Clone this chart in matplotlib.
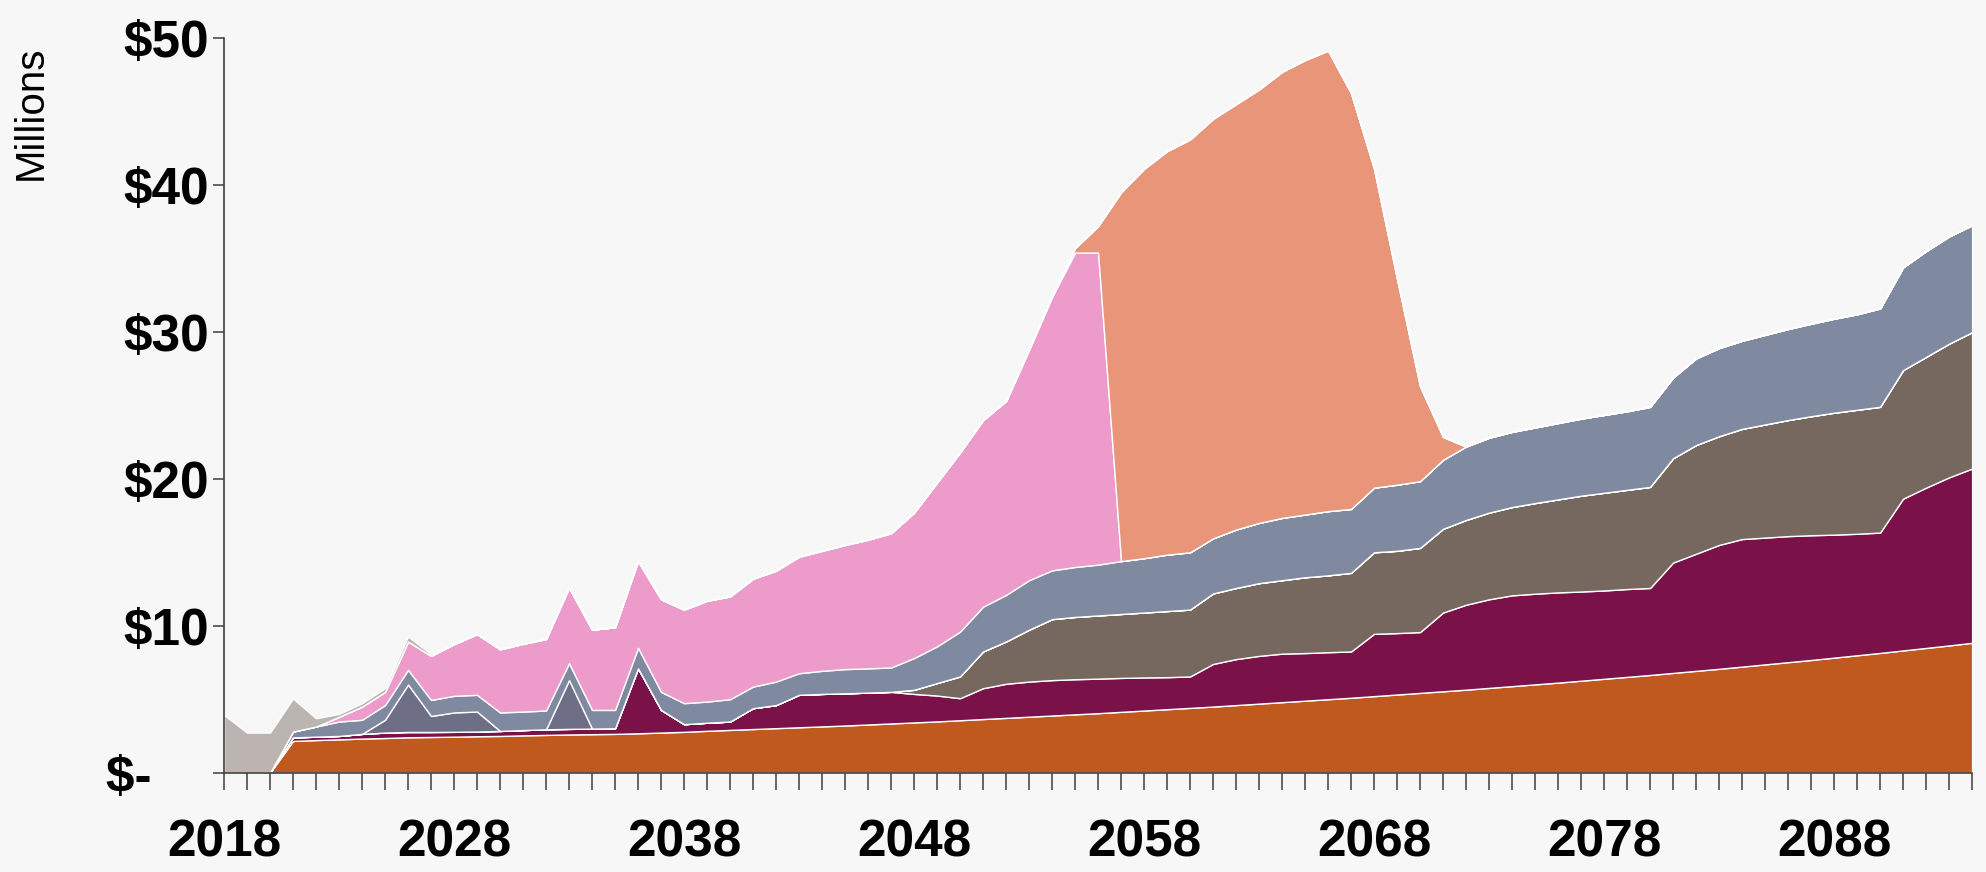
import matplotlib
matplotlib.use("Agg")
import matplotlib.pyplot as plt
import numpy as np

# years on the x axis (one point per year)
years = np.arange(2018, 2095)

# $ millions per year (bottom to top of the stack)
base = [0, 0, 0, 2.16, 2.22, 2.27, 2.32, 2.36, 2.41, 2.43,
        2.45, 2.48, 2.50, 2.54, 2.57, 2.60, 2.62, 2.64, 2.68, 2.73,
        2.78, 2.85, 2.91, 2.97, 3.03, 3.09, 3.15, 3.21, 3.28, 3.35,
        3.42, 3.49, 3.57, 3.65, 3.73, 3.81, 3.89, 3.97, 4.05, 4.14,
        4.23, 4.32, 4.41, 4.50, 4.60, 4.70, 4.80, 4.90, 5.00, 5.10,
        5.21, 5.32, 5.43, 5.54, 5.65, 5.77, 5.89, 6.01, 6.13, 6.26,
        6.39, 6.52, 6.65, 6.79, 6.93, 7.07, 7.22, 7.37, 7.52, 7.67,
        7.83, 7.99, 8.15, 8.32, 8.49, 8.66, 8.84]

plum = [0, 0, 0, 0.24, 0.23, 0.23, 0.32, 0.37, 0.36, 0.34,
        0.33, 0.32, 0.34, 0.36, 0.38, 0.38, 0.38, 0.38, 4.42, 1.54,
        0.52, 0.55, 0.57, 1.42, 1.57, 2.21, 2.21, 2.19, 2.17, 2.15,
        1.94, 1.76, 1.50, 2.10, 2.32, 2.39, 2.41, 2.39, 2.35, 2.31,
        2.25, 2.18, 2.14, 2.90, 3.13, 3.25, 3.30, 3.24, 3.20, 3.15,
        4.24, 4.18, 4.14, 5.36, 5.78, 6.03, 6.18, 6.17, 6.14, 6.07,
        6.01, 5.98, 5.92, 7.51, 7.97, 8.43, 8.68, 8.63, 8.58, 8.49,
        8.37, 8.27, 8.19, 10.33, 10.91, 11.44, 11.86]

brown = [0.0] * 30 + [
        0.28, 0.85, 1.48, 2.50, 2.88, 3.53, 4.15, 4.24, 4.30, 4.35,
        4.42, 4.50, 4.55, 4.80, 4.84, 4.95, 5.00, 5.16, 5.23, 5.35,
        5.55, 5.60, 5.73, 5.70, 5.77, 5.90, 6.01, 6.17, 6.33, 6.52,
        6.65, 6.75, 6.88, 7.10, 7.40, 7.40, 7.50, 7.70, 7.90, 8.10,
        8.30, 8.44, 8.56, 8.75, 8.90, 9.10, 9.28]

slate = [0, 0, 0, 0, 0, 0, 0, 0.87, 3.23, 1.09,
         1.32, 1.36, 0, 0, 0, 3.32, 0, 0, 0, 0] + [0.0] * 57

bluegray = [0, 0, 0, 0.40, 0.69, 0.98, 0.96, 1.00, 1.00, 1.09,
            1.13, 1.14, 1.26, 1.26, 1.28, 1.15, 1.27, 1.25, 1.40, 1.23,
            1.43, 1.44, 1.52, 1.47, 1.60, 1.47, 1.57, 1.65, 1.65, 1.66,
            2.16, 2.50, 3.05, 3.05, 3.17, 3.37, 3.32, 3.40, 3.46, 3.60,
            3.70, 3.84, 3.90, 3.75, 3.98, 4.10, 4.24, 4.27, 4.37, 4.35,
            4.40, 4.50, 4.54, 4.70, 5.00, 5.10, 5.12, 5.15, 5.20, 5.25,
            5.30, 5.35, 5.45, 5.50, 5.90, 6.00, 6.00, 6.10, 6.20, 6.30,
            6.40, 6.50, 6.70, 7.00, 7.20, 7.30, 7.28]

pink = [0, 0, 0, 0, 0, 0.32, 0.90, 0.90, 1.93, 3.00,
        3.52, 4.13, 4.30, 4.61, 4.87, 5.15, 5.46, 5.63, 5.90, 6.30,
        6.37, 6.86, 7.00, 7.34, 7.55, 7.93, 8.17, 8.45, 8.76, 9.14,
        9.90, 11.15, 12.20, 12.70, 13.20, 15.70, 18.63, 21.40, 21.24, 0] + [0.0] * 37

salmon = [0.0] * 37 + [0.30, 1.80, 25.10,
          26.50, 27.46, 28.10, 28.55, 28.95, 29.50, 30.36, 30.93, 31.35, 28.30,
          21.70, 14.00, 6.46, 1.55] + [0.0] * 23

excess = [3.93, 2.73, 2.73, 2.25, 0.56, 0.20, 0.23, 0.25, 0.34, 0.12] + [0.0] * 67

colors = ["#BF591D", "#7A1149", "#76675F", "#6E6E86", "#7F8AA0",
          "#ED9BCA", "#E8957A", "#BCB4B0"]

label_years = [2018, 2028, 2038, 2048, 2058, 2068, 2078, 2088]
y_ticks = [0, 10, 20, 30, 40, 50]
y_labels = ["$-    ", "$10", "$20", "$30", "$40", "$50"]

paper = "#F7F7F8"
plt.rcParams["font.family"] = ["Liberation Sans", "DejaVu Sans"]

fig = plt.figure(figsize=(19.86, 8.72), dpi=100, facecolor=paper)
ax = fig.add_axes([0.1128, 0.1139, 0.8802, 0.8425])
ax.set_facecolor(paper)

ax.stackplot(years, base, plum, brown, slate, bluegray, pink, salmon, excess,
             colors=colors, edgecolor="white", linewidth=1.0)

ax.set_xlim(2018, 2094)
ax.set_ylim(0, 50)

ax.set_xticks(years)
ax.set_xticklabels([str(y) if y in label_years else "" for y in years])
ax.set_yticks(y_ticks)
ax.set_yticklabels(y_labels)

for s in ["top", "right"]:
    ax.spines[s].set_visible(False)
for s in ["left", "bottom"]:
    ax.spines[s].set_color("#3f3f3f")
    ax.spines[s].set_linewidth(1.2)
    ax.spines[s].set_zorder(5)

ax.tick_params(axis="x", direction="out", length=12, width=1.1, color="#3f3f3f",
               pad=21, labelsize=37)
ax.tick_params(axis="y", direction="out", length=8, width=1.1, color="#3f3f3f",
               pad=3, labelsize=37)
for t in ax.get_xticklabels() + ax.get_yticklabels():
    t.set_fontweight("bold")

fig.text(30.5 / 1986, 1 - 113 / 872, "Millions", rotation=90, fontsize=29,
         ha="center", va="center")

fig.savefig("out.png", dpi=100, facecolor=paper)
